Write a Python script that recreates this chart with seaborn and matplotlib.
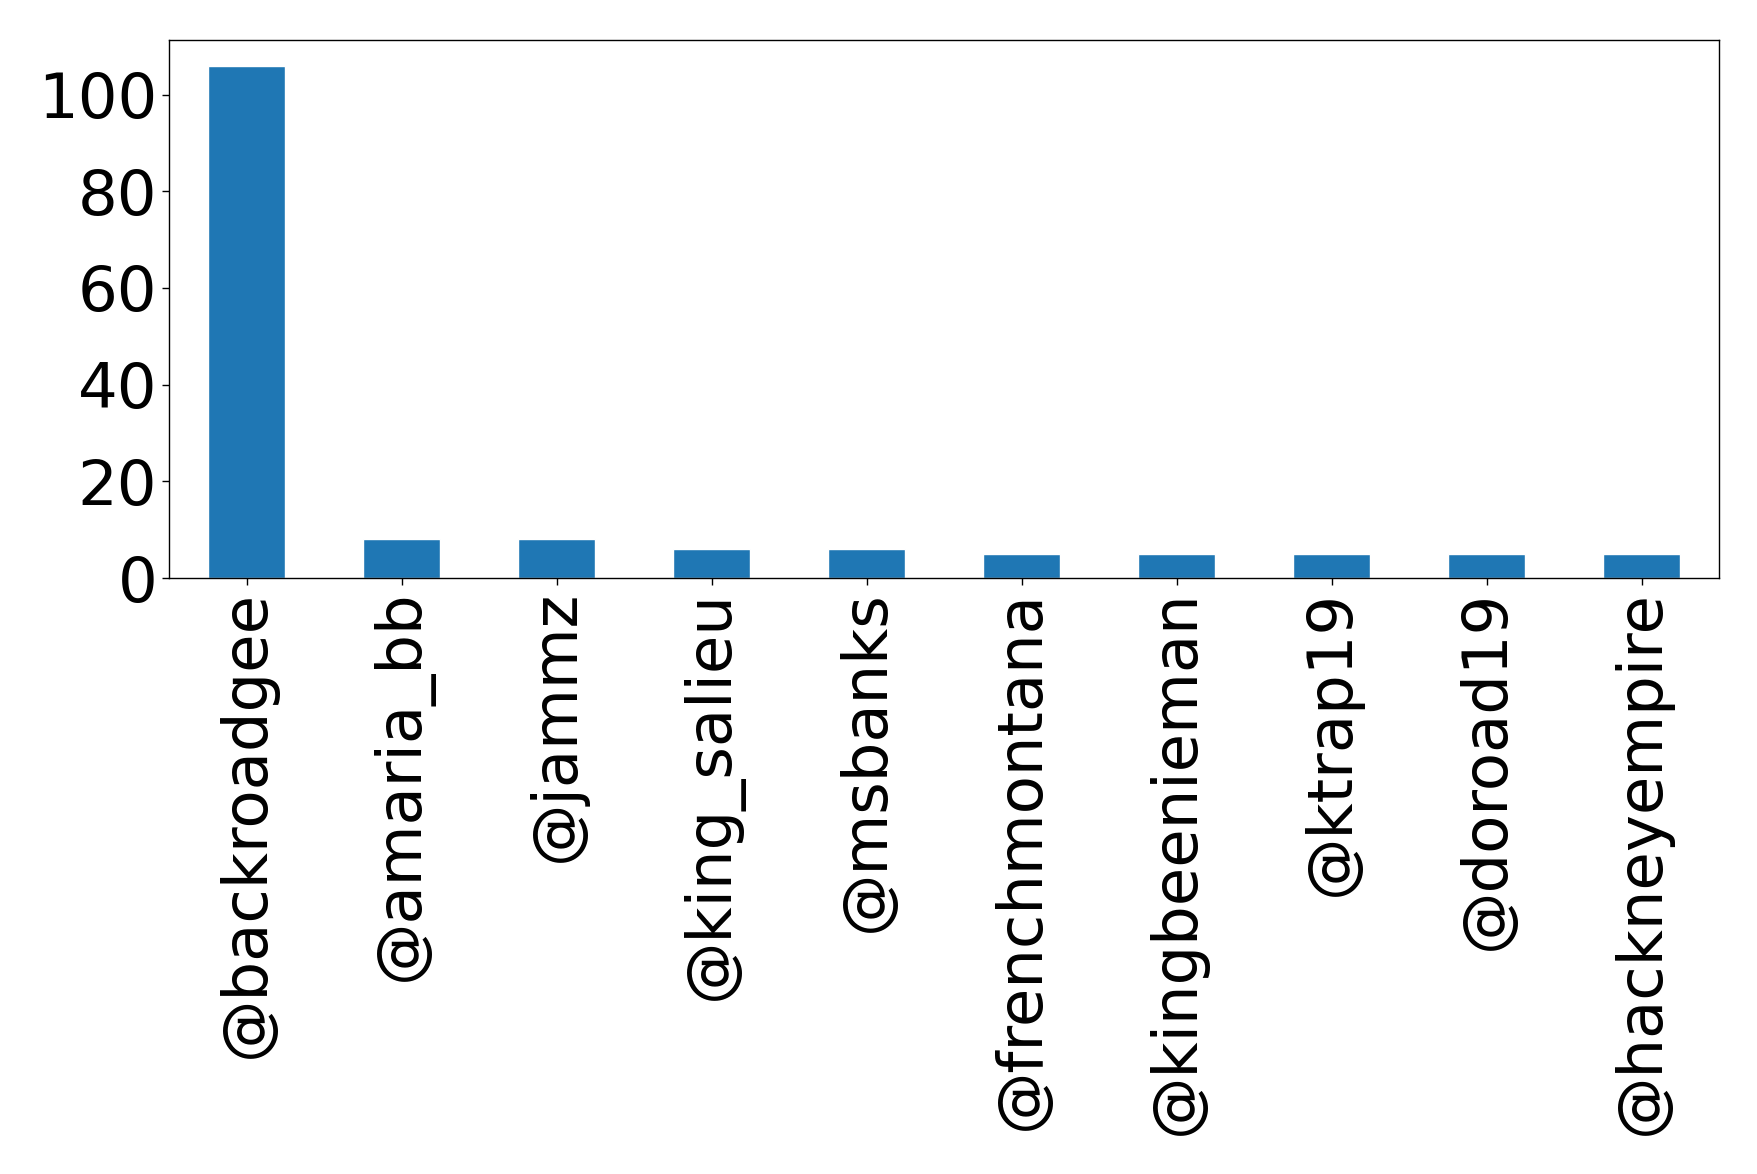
import matplotlib
matplotlib.use("Agg")
import matplotlib.pyplot as plt
import seaborn as sns
import pandas as pd

# cuentas más mencionadas
usuarios = ['@backroadgee', '@amaria_bb', '@jammz', '@king_salieu', '@msbanks',
            '@frenchmontana', '@kingbeenieman', '@ktrap19', '@doroad19', '@hackneyempire']
menciones = [106, 8, 8, 6, 6, 5, 5, 5, 5, 5]
marcas_y = [0, 20, 40, 60, 80, 100]

df = pd.DataFrame({'usuario': usuarios, 'menciones': menciones})

sns.set_style('white')
plt.rcParams['font.family'] = ['DejaVu Sans']

fig = plt.figure(figsize=(17.58, 11.74), dpi=100)
ax = fig.add_axes([169 / 1758, 1 - 578 / 1174, 1550 / 1758, 538 / 1174])
sns.barplot(data=df, x='usuario', y='menciones', color='#1f77b4',
            saturation=1, width=0.5, ax=ax)

ax.set_xlim(-0.5, len(usuarios) - 0.5)
ax.set_ylim(0, max(menciones) * 1.05)
ax.set_yticks(marcas_y)
ax.set_xlabel('')
ax.set_ylabel('')
ax.tick_params(axis='both', labelsize=45, length=5, width=1, direction='out',
               bottom=True, left=True, colors='black', labelcolor='black')
ax.tick_params(axis='x', labelrotation=90)
for s in ax.spines.values():
    s.set_visible(True)
    s.set_color('black')
    s.set_linewidth(1)

fig.savefig('out.png', dpi=100)
